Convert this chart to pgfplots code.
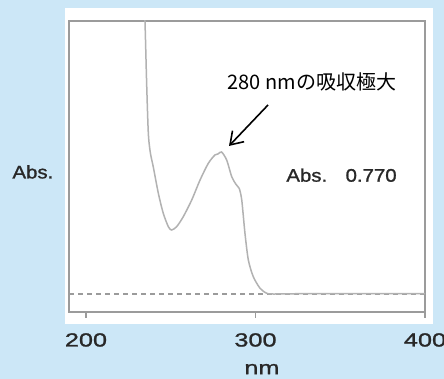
\documentclass[border=0pt]{standalone}
\usepackage{fontspec}
\usepackage{pgfplots}
\pgfplotsset{compat=1.18}
\usetikzlibrary{arrows.meta}
\setmainfont{Liberation Sans}
\newfontfamily\widefont[FakeStretch=1.33,FakeBold=1.2]{Liberation Sans}
\newfontfamily\absfont[FakeStretch=1.12,FakeBold=1.2]{Liberation Sans}
\newfontfamily\jp{Noto Sans CJK JP}
\definecolor{bgblue}{RGB}{204,231,247}
\definecolor{curvegray}{RGB}{178,178,178}
\definecolor{framegray}{RGB}{155,155,155}
\definecolor{txt}{RGB}{40,40,40}
\begin{document}
\begin{tikzpicture}
\useasboundingbox (-34.5pt,-33.5pt) rectangle (187.5pt,156pt);
\clip (-34.5pt,-33.5pt) rectangle (187.5pt,156pt);
\fill[bgblue] (-34.5pt,-33.5pt) rectangle (187.5pt,156pt);
\fill[white] (-2pt,-6pt) rectangle (182pt,152pt);
\begin{axis}[
  at={(0,0)}, anchor=south west,
  scale only axis, width=178pt, height=145.5pt,
  xmin=190, xmax=400, ymin=-0.0976, ymax=1.4805,
  xtick={200,300,400}, ytick=\empty,
  xtick pos=bottom,
  xtick align=outside, major tick length=3pt,
  axis line style={draw=framegray, line width=0.6pt},
  tick style={draw=framegray, line width=0.6pt},
  /pgf/number format/assume math mode=true,
  xticklabel style={font=\widefont\fontsize{9.5}{10}\selectfont, text=txt, anchor=base, yshift=-14.25pt},
  clip mode=individual,
]
\addplot[draw=framegray, line width=0.6pt, dash pattern=on 2.5pt off 2pt] coordinates {(190,0) (400,0)};
\addplot[draw=curvegray, line width=0.75pt, smooth, tension=0.45] coordinates {
(233.8,1.70) (234.8,1.486) (235.8,1.143) (236.8,0.871) (238.0,0.765) (239.7,0.690) (242.7,0.546)
(245.6,0.438) (248.6,0.365) (250.5,0.347) (253.5,0.365) (257.4,0.419) (262.4,0.510)
(267.3,0.618) (272.2,0.709) (276.1,0.754) (278.0,0.760) (280.0,0.770) (283.0,0.727)
(286.0,0.636) (288.5,0.595) (290.4,0.573) (291.9,0.510) (293.8,0.329) (295.8,0.184)
(298.7,0.094) (302.7,0.031) (306.6,0.004) (310.5,0.000) (330,0.002) (360,0.002) (400,0.002)};
\node[anchor=base, font=\jp\fontsize{10}{12}\selectfont, text=black] at (axis cs:333.3,1.109) {280 nmの吸収極大};
\draw[-{Straight Barb[length=6pt,width=8pt]}, line width=0.8pt, black] (axis cs:307.4,1.025) -- (axis cs:284.4,0.803);
\node[anchor=base west, font=\absfont\fontsize{9.1}{11}\selectfont, text=txt, inner sep=0pt] at (axis cs:318.0,0.609) {Abs.};
\node[anchor=base east, font=\absfont\fontsize{9.1}{11}\selectfont, text=txt, inner sep=0pt] at (axis cs:383.5,0.609) {0.770};
\node[anchor=center, font=\absfont\fontsize{9.1}{11}\selectfont, text=txt, inner sep=0pt] at (axis cs:168.7,0.662) {Abs.};
\node[anchor=base, font=\widefont\fontsize{9.5}{11}\selectfont, text=txt, inner sep=0pt] at (axis cs:303.8,-0.435) {nm};
\end{axis}
\end{tikzpicture}
\end{document}
